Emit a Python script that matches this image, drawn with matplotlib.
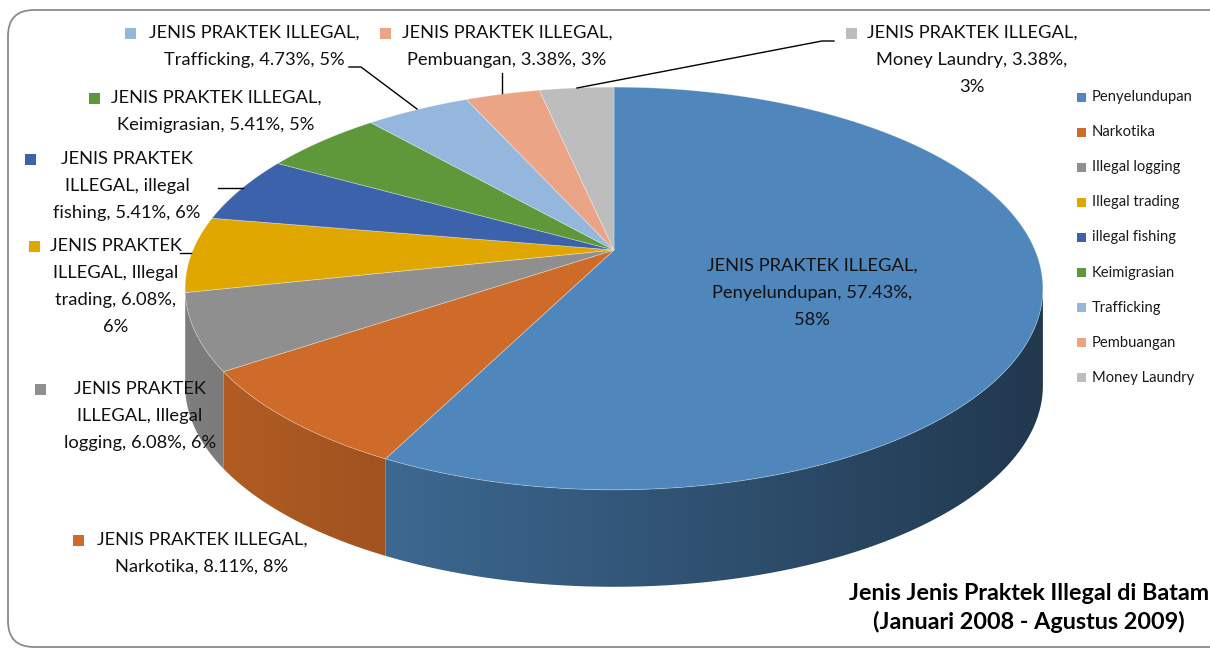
import textwrap

import numpy as np
import matplotlib
matplotlib.use('Agg')
import matplotlib.pyplot as plt
from matplotlib.patches import Polygon, FancyBboxPatch, Rectangle
from matplotlib.colors import to_rgb

# data
categories = ['Penyelundupan', 'Narkotika', 'Illegal logging',
              'Illegal trading', 'illegal fishing', 'Keimigrasian',
              'Trafficking', 'Pembuangan', 'Money Laundry']
cases = [85, 12, 9, 9, 8, 8, 7, 5, 5]
shown_pct = [58, 8, 6, 6, 6, 5, 5, 3, 3]   # rounded values as printed
series_name = 'JENIS PRAKTEK ILLEGAL'
colors = ['#4F87BC', '#CF6B29', '#8F8F8F', '#DFA700', '#3B62AA',
          '#5E983B', '#95B7DD', '#EBA486', '#BDBDBD']
title = 'Jenis Jenis Praktek Illegal di Batam\n(Januari 2008 - Agustus 2009)'

plt.rcParams['font.family'] = ['Lato', 'DejaVu Sans']

fig = plt.figure(figsize=(12.1, 6.5), dpi=100)
ax = fig.add_axes([0, 0, 1, 1])

# chart area border
ax.add_patch(FancyBboxPatch((8, 10), 1260, 637,
                            boxstyle='round,pad=0,rounding_size=26',
                            fc='white', ec='#8a8a8a', lw=1.3, zorder=0))

# perspective pie geometry (pixel units)
x0, y0 = 614, 250
A, B, k = 421, 194, 0.191
depth = 97


def rim(theta):
    u, v = np.sin(theta), np.cos(theta)
    d = 1 + k * v
    return x0 + A * u / d, y0 - B * v / d


def shade(x):
    return 0.88 - 0.46 * np.clip((x - 185) / 855, 0, 1)


share = np.array(cases) / sum(cases)
bounds = np.concatenate([[0], np.cumsum(share)]) * 2 * np.pi

# side walls (front, visible part only), shaded left to right
lo, hi = np.arccos(-k), 2 * np.pi - np.arccos(-k)
for i in range(len(cases)):
    a, b = max(bounds[i], lo), min(bounds[i + 1], hi)
    if b <= a:
        continue
    th = np.linspace(a, b, 200)
    xs, ys = rim(th)
    pts = list(zip(xs, ys)) + list(zip(xs[::-1], ys[::-1] + depth))
    clip = Polygon(pts, closed=True, fc='none', ec='none', zorder=1)
    ax.add_patch(clip)
    xmin, xmax = xs.min() - 2, xs.max() + 2
    gx = np.linspace(xmin, xmax, 256)
    grad = np.array(to_rgb(colors[i]))[None, None, :] * shade(gx)[None, :, None]
    im = ax.imshow(grad, extent=(xmin, xmax, ys.max() + depth + 2,
                                 ys.min() - 2),
                   aspect='auto', interpolation='bilinear', zorder=1)
    im.set_clip_path(clip)

# top faces
for i in range(len(cases)):
    n = max(3, int(np.degrees(bounds[i + 1] - bounds[i])) * 2 + 2)
    th = np.linspace(bounds[i], bounds[i + 1], n)
    xs, ys = rim(th)
    pts = [(x0, y0)] + list(zip(xs, ys))
    ax.add_patch(Polygon(pts, closed=True, fc=colors[i],
                         ec=(1, 1, 1, 0.35), lw=0.6, zorder=2))

# data labels: centre x, first line y, wrap width, marker position
layout = [
    (812, 266, 22, None),
    (202, 540, 22, (78, 540)),
    (140, 389, 18, (40, 389)),
    (116, 246, 17, (34, 246)),
    (127, 159, 18, (30, 159)),
    (216, 98, 23, (94, 98)),
    (254, 33, 22, (130, 33)),
    (507, 33, 22, (385, 33)),
    (972, 33, 22, (851, 33)),
]
for i, (cx, cy, width, mk) in enumerate(layout):
    text = '%s, %s, %.2f%%, %d%%' % (series_name, categories[i],
                                     100 * share[i], shown_pct[i])
    for j, line in enumerate(textwrap.wrap(text, width)):
        ax.text(cx, cy + 27 * j, line, ha='center', va='center',
                fontsize=13.2, color='#111111', zorder=5)
    if mk is not None:
        ax.add_patch(Rectangle((mk[0] - 5.5, mk[1] - 5.5), 11, 11,
                               fc=colors[i], ec='none', zorder=5))

# leader lines
leaders = [
    [(349, 67), (361, 67), (417, 109)],
    [(502, 73), (502, 93)],
    [(577, 88), (822, 41), (834, 41)],
    [(218, 188), (243, 188)],
    [(180, 253), (191, 253)],
]
for seg in leaders:
    sx, sy = zip(*seg)
    ax.plot(sx, sy, color='black', lw=1, zorder=4)

# legend
for i, name in enumerate(categories):
    ly = 97 + 35.1 * i
    ax.add_patch(Rectangle((1077, ly - 4.5), 9, 9, fc=colors[i],
                           ec='none', zorder=5))
    ax.text(1092, ly, name, ha='left', va='center', fontsize=10.6,
            color='#1a1a1a', zorder=5)

ax.text(1029, 608, title, ha='center', va='center', fontsize=16.8,
        fontweight='bold', linespacing=1.35, color='black', zorder=5)

ax.set_xlim(0, 1210)
ax.set_ylim(650, 0)
ax.axis('off')

fig.savefig('out.png', dpi=100)
